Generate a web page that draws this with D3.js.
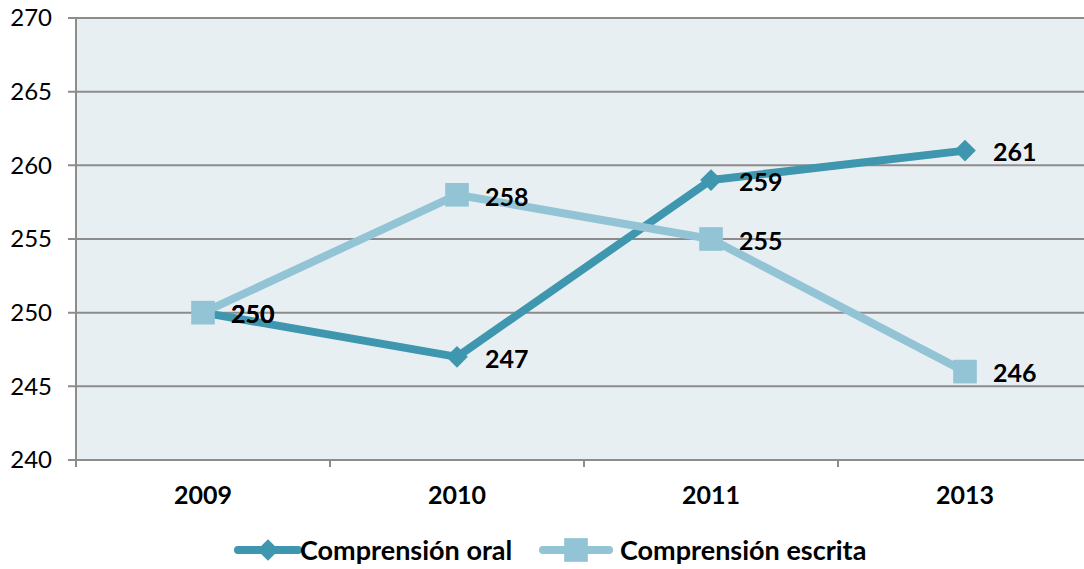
<!DOCTYPE html>
<html><head><meta charset="utf-8">
<script src="https://cdn.jsdelivr.net/npm/d3@7"></script>
<style>body{margin:0;background:#fff}svg{display:block;font-family:Lato,"Liberation Sans",sans-serif}</style>
</head><body><svg id="c" width="1084" height="569"></svg>
<script>
const years = ["2009","2010","2011","2013"];
const oral = [250,247,259,261];
const escrita = [250,258,255,246];
const yTicks = [240,245,250,255,260,265,270];
const seriesNames = ["Comprensión oral","Comprensión escrita"];
const colors = ["#3E97AE","#93C4D6"];

const svg = d3.select("#c");
const L=76, R=1092, T=18, B=460;
const x = d3.scaleBand().domain(years).range([L,R]);
const y = d3.scaleLinear().domain([240,270]).range([B,T]);

svg.append("rect").attr("x",L).attr("y",T).attr("width",R-L).attr("height",B-T).attr("fill","#E8EFF3");
svg.append("g").selectAll("line").data(yTicks).join("line")
  .attr("x1",L-8).attr("x2",R).attr("y1",d=>y(d)).attr("y2",d=>y(d))
  .attr("stroke","#8C8C8C").attr("stroke-width",2);
svg.append("line").attr("x1",L).attr("x2",L).attr("y1",T).attr("y2",B+7).attr("stroke","#8C8C8C").attr("stroke-width",2);
const bounds = years.slice(1).map(d=>x(d));
svg.append("g").selectAll("line").data(bounds).join("line")
  .attr("x1",d=>d).attr("x2",d=>d).attr("y1",B).attr("y2",B+7).attr("stroke","#8C8C8C").attr("stroke-width",2);
svg.append("g").selectAll("text").data(yTicks).join("text")
  .attr("x",52).attr("y",d=>y(d)).attr("dy","0.35em").attr("text-anchor","end")
  .attr("font-size",24).attr("fill","#000").text(d=>d);
svg.append("g").selectAll("text").data(years).join("text")
  .attr("x",d=>x(d)+x.bandwidth()/2).attr("y",495).attr("dy","0.35em").attr("text-anchor","middle")
  .attr("font-size",25).attr("font-weight","bold").attr("fill","#000").text(d=>d);

const cx = d=>x(d)+x.bandwidth()/2;
const line = d3.line().x((d,i)=>cx(years[i])).y(d=>y(d));
const data = [oral, escrita];
const diamond = d3.symbol().type(d3.symbolDiamond2).size(300);
const square = d3.symbol().type(d3.symbolSquare).size(560);

[0,1].forEach(s=>{
  svg.append("path").datum(data[s]).attr("d",line).attr("fill","none")
    .attr("stroke",colors[s]).attr("stroke-width",8).attr("stroke-linejoin","round");
});
[0,1].forEach(s=>{
  svg.append("g").selectAll("path").data(data[s]).join("path")
    .attr("transform",(d,i)=>`translate(${cx(years[i])},${y(d)})`)
    .attr("d",s===0?diamond:square).attr("fill",colors[s]);
});
[0,1].forEach(s=>{
  svg.append("g").selectAll("text").data(data[s]).join("text")
    .attr("x",(d,i)=>cx(years[i])+28).attr("y",d=>y(d)+2).attr("dy","0.35em")
    .attr("font-size",25).attr("font-weight","bold").attr("fill","#000").text(d=>d);
});

const leg = [{x:238,w:60,t:300},{x:543,w:66,t:620}];
leg.forEach((g,s)=>{
  const gg = svg.append("g");
  gg.append("line").attr("x1",g.x).attr("x2",g.x+g.w).attr("y1",550).attr("y2",550)
    .attr("stroke",colors[s]).attr("stroke-width",8).attr("stroke-linecap","round");
  gg.append("path").attr("transform",`translate(${g.x+g.w/2},550)`).attr("d",s===0?diamond:square).attr("fill",colors[s]);
  gg.append("text").attr("x",g.t).attr("y",551).attr("dy","0.35em").attr("font-size",27)
    .attr("font-weight","bold").attr("fill","#000").text(seriesNames[s]);
});
</script></body></html>
